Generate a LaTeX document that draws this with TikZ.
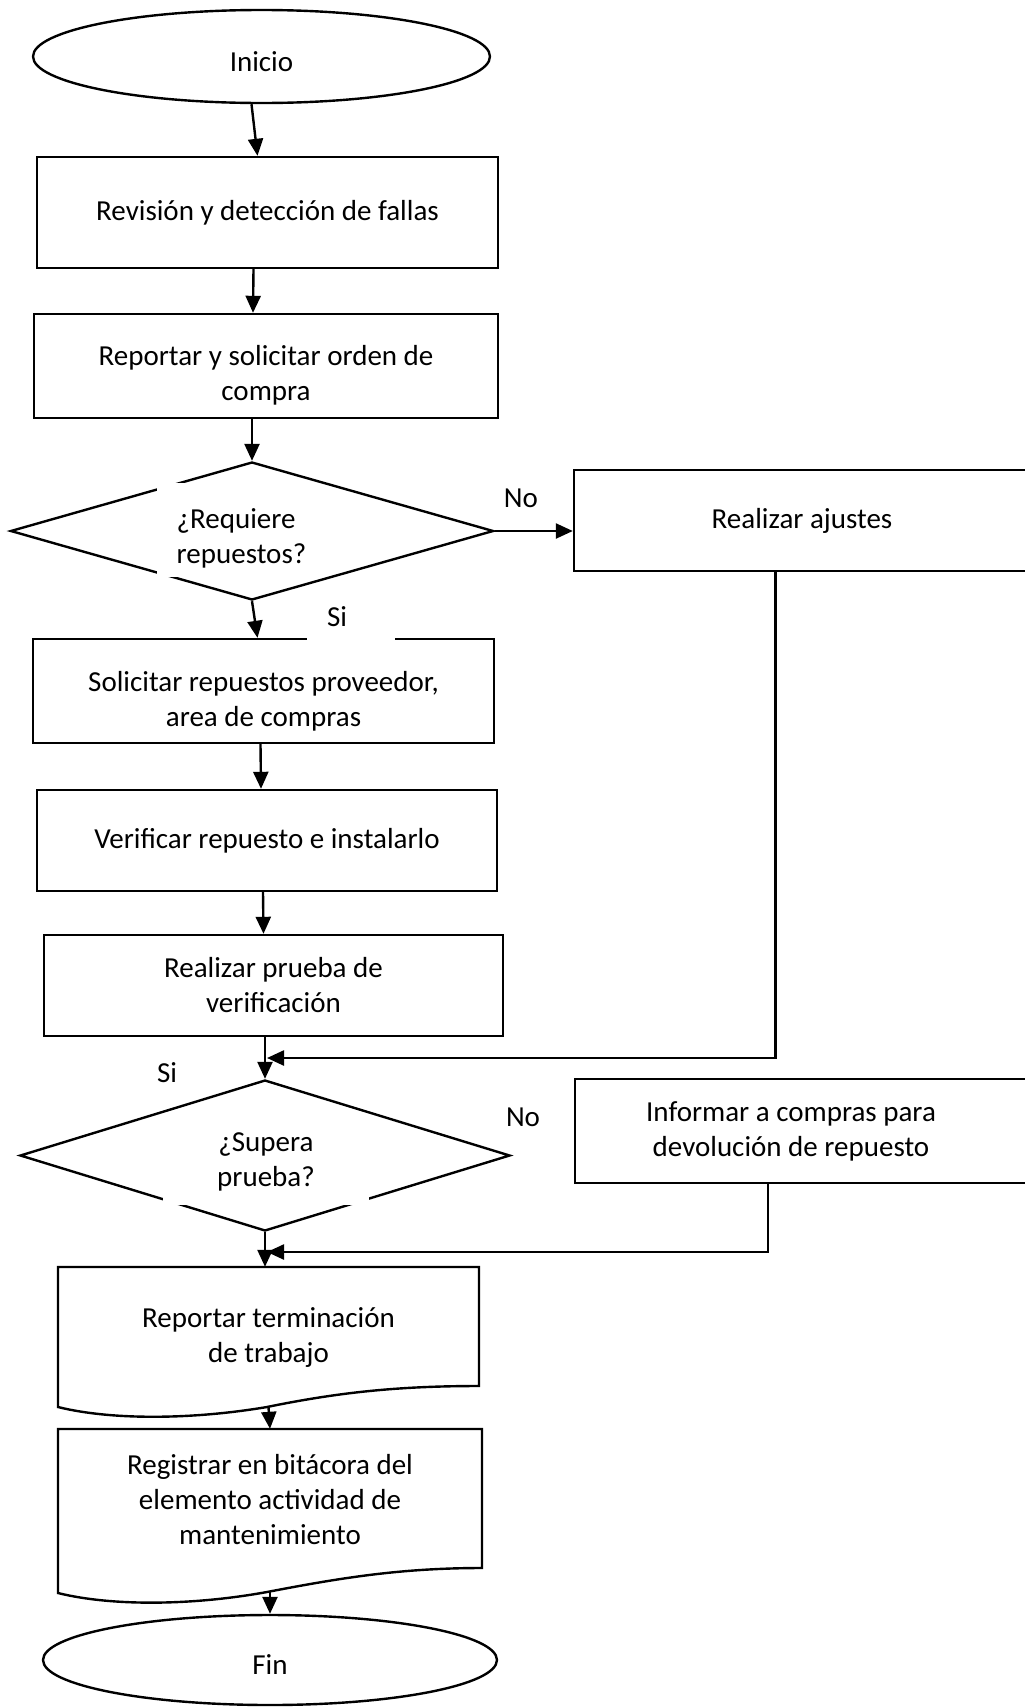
\documentclass[tikz,border=0pt]{standalone}
\usepackage{fontspec}
\setmainfont{Carlito}
\usetikzlibrary{shapes.geometric,arrows.meta,calc}
\newcommand\mainfs{\fontsize{29pt}{35pt}\selectfont}
\begin{document}
\begin{tikzpicture}[x=1pt,y=-1pt,font=\mainfs,
  ln/.style={draw=black,line width=2.4pt},
  box/.style={ln,rectangle,inner sep=0pt,align=center},
  term/.style={ln,ellipse,inner sep=0pt,text height=29pt,text depth=0pt},
  dia/.style={ln,diamond,inner sep=0pt},
  arr/.style={line width=2.4pt,-{Triangle[length=17pt,width=15pt]}},
  lbl/.style={inner sep=0pt},
  blank/.style={fill=white,inner sep=0pt}]
\path[use as bounding box,clip] (0,0) rectangle (1025,1708);
\fill[white] (0,0) rectangle (1025,1708);

% main column
\node[term,minimum width=457pt,minimum height=93pt] (ini) at (261.5,56.5) {Inicio};
\node[box,minimum width=461pt,minimum height=111pt] (b1) at (267.5,212.5) {Revisión y detección de fallas};
\node[box,minimum width=464pt,minimum height=104pt] (b2) at (266,366) {};
\node[lbl,align=center] (b2t) at (266,375) {Reportar y solicitar orden de\\compra};
\node[dia,minimum width=483pt,minimum height=138pt] (d1) at (252,531) {};
\node[blank,minimum width=150pt,minimum height=94pt] (d1w) at (232,530) {};
\node[lbl,align=left] (d1t) at (241.5,538) {¿Requiere\\repuestos?};
\node[box,minimum width=461pt,minimum height=104pt] (sol) at (263.5,691) {};
\node[lbl,align=center] (solt) at (263.5,701) {Solicitar repuestos proveedor,\\area de compras};
\node[box,minimum width=460pt,minimum height=101pt] (ver) at (267,840.5) {Verificar repuesto e instalarlo};
\node[box,minimum width=459pt,minimum height=101pt] (pr) at (273.5,985.5) {Realizar prueba de\\verificación};
\node[dia,minimum width=490pt,minimum height=151pt] (d2) at (265,1155.5) {};
\node[blank,minimum width=206pt,minimum height=85pt,align=center] (d2t) at (266,1162) {¿Supera\\prueba?};

% document shapes
\node[inner sep=0pt,minimum width=421pt,minimum height=140pt,align=center] (rt) at (268.5,1337) {Reportar terminación\\de trabajo};
\draw[ln] (58,1407) -- (58,1267) -- (479,1267) -- (479,1386)
  .. controls (400,1386) and (340,1392) .. (267,1407)
  .. controls (190,1420) and (110,1420) .. (58,1407) -- cycle;
\node[inner sep=0pt,minimum width=424pt,minimum height=142pt,align=center] (rg) at (270,1500) {Registrar en bitácora del\\elemento actividad de\\mantenimiento};
\draw[ln] (58,1593) -- (58,1429) -- (482,1429) -- (482,1568)
  .. controls (400,1568) and (340,1578) .. (267,1592)
  .. controls (190,1606) and (110,1606) .. (58,1593) -- cycle;
\node[term,minimum width=454pt,minimum height=90pt] (fin) at (270,1660) {Fin};

% right column
\node[box,minimum width=456pt,minimum height=101pt] (ra) at (802,520.5) {Realizar ajustes};
\node[box,minimum width=460pt,minimum height=104pt] (inf) at (805,1131) {};
\node[lbl,align=center] (inft) at (791,1131) {Informar a compras para\\devolución de repuesto};

% label backgrounds and labels
\node[blank,minimum width=88pt,minimum height=40pt] (s1w) at (351,621) {};
\node[lbl] (no1) at (521,498) {No};
\node[lbl] (si1) at (337,617) {Si};
\node[lbl] (si2) at (167,1073) {Si};
\node[lbl] (no2) at (523,1117) {No};

% merge points on the main line
\coordinate (m1) at (267,1058);
\coordinate (m2) at (267,1252);

% connectors
\draw[arr] ([xshift=-10pt]ini.south) -- ([xshift=-10pt]b1.north);
\draw[arr] ([xshift=-14pt]b1.south) -- ([xshift=-13pt]b2.north);
\draw[arr] ([xshift=-14pt]b2.south) -- (d1.north);
\draw[arr] (d1.south) -- ([xshift=-6pt]sol.north);
\draw[arr] ([xshift=-3pt]sol.south) -- ([xshift=-6pt]ver.north);
\draw[arr] ([xshift=-4pt]ver.south) -- ([xshift=-10pt]pr.north);
\draw[arr] ([xshift=-8.5pt]pr.south) -- (d2.north);
\draw[arr] (d2.south) -- ([xshift=-3.5pt]rt.north);
\draw[arr] (rt.south) -- (rg.north);
\draw[arr] ([yshift=-21pt]rg.south) -- (fin.north);
\draw[arr] (d1.east) -- (d1.east -| ra.west);
\draw[arr] ([xshift=-26.5pt]ra.south) |- (m1);
\draw[arr] ([xshift=-37pt]inf.south) |- (m2);
\end{tikzpicture}
\end{document}
